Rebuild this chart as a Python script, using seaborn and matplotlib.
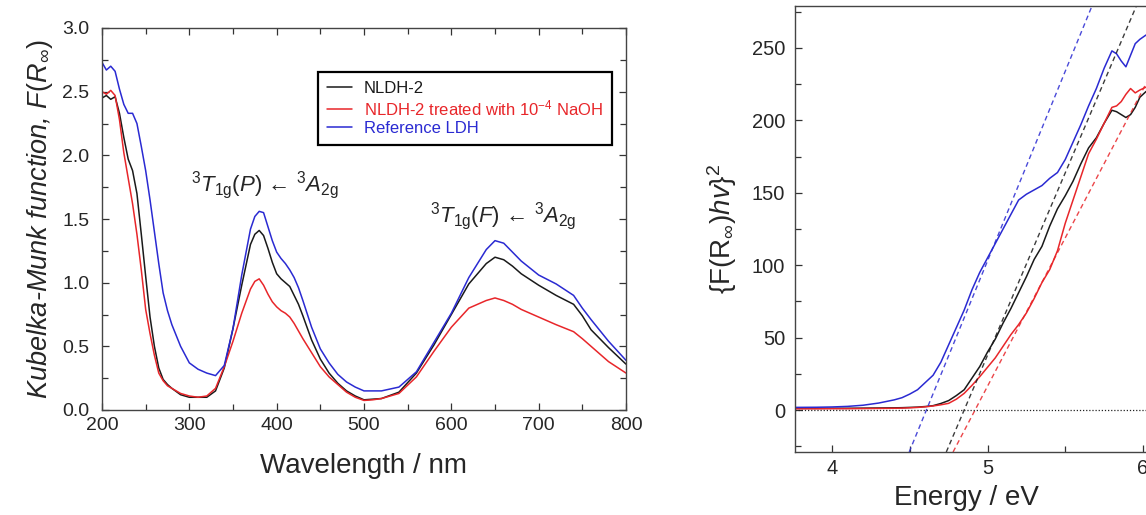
import numpy as np
import pandas as pd
import matplotlib
matplotlib.use("Agg")
import matplotlib.pyplot as plt
import seaborn as sns

# ---------------- data: left panel (Kubelka-Munk spectra) ----------------
wavelength = [200, 205, 210, 215, 220, 225, 230, 235, 240, 245, 250, 255, 260, 265,
              270, 275, 280, 290, 300, 310, 320, 330, 340, 350, 360, 370, 375, 380,
              385, 390, 395, 400, 405, 410, 415, 420, 425, 430, 440, 450, 460, 470,
              480, 490, 500, 510, 520, 540, 560, 580, 600, 620, 640, 650, 660, 670,
              680, 700, 720, 740, 750, 760, 780, 800]
km_nldh2 = [2.45, 2.47, 2.44, 2.46, 2.33, 2.14, 1.97, 1.88, 1.70, 1.38, 1.05, 0.73, 0.50, 0.33,
            0.24, 0.20, 0.17, 0.12, 0.10, 0.10, 0.10, 0.15, 0.33, 0.64, 0.98, 1.30, 1.38, 1.41,
            1.37, 1.27, 1.16, 1.07, 1.03, 1.00, 0.97, 0.90, 0.83, 0.74, 0.55, 0.40, 0.29, 0.21,
            0.15, 0.11, 0.08, 0.085, 0.09, 0.14, 0.29, 0.51, 0.75, 0.99, 1.15, 1.20, 1.18, 1.13,
            1.07, 0.98, 0.90, 0.83, 0.74, 0.63, 0.49, 0.36]
km_naoh = [2.50, 2.48, 2.51, 2.47, 2.28, 2.02, 1.82, 1.62, 1.38, 1.10, 0.79, 0.60, 0.43, 0.29,
           0.23, 0.19, 0.17, 0.13, 0.11, 0.10, 0.11, 0.17, 0.34, 0.54, 0.76, 0.95, 1.01, 1.03,
           0.98, 0.91, 0.85, 0.81, 0.78, 0.76, 0.73, 0.68, 0.62, 0.56, 0.45, 0.34, 0.26, 0.20,
           0.14, 0.10, 0.075, 0.08, 0.09, 0.13, 0.26, 0.46, 0.65, 0.80, 0.86, 0.88, 0.86, 0.83,
           0.79, 0.73, 0.67, 0.615, 0.56, 0.50, 0.38, 0.29]
km_ref = [2.73, 2.67, 2.70, 2.66, 2.52, 2.40, 2.33, 2.33, 2.25, 2.07, 1.88, 1.65, 1.40, 1.15,
          0.92, 0.78, 0.67, 0.50, 0.37, 0.32, 0.29, 0.27, 0.35, 0.64, 1.06, 1.42, 1.52, 1.56,
          1.55, 1.44, 1.33, 1.24, 1.19, 1.15, 1.10, 1.04, 0.96, 0.86, 0.65, 0.48, 0.37, 0.28,
          0.22, 0.18, 0.15, 0.15, 0.15, 0.18, 0.30, 0.53, 0.76, 1.04, 1.26, 1.33, 1.31, 1.24,
          1.17, 1.06, 0.99, 0.90, 0.80, 0.71, 0.54, 0.39]

# ---------------- data: right panel (Tauc plot) ----------------
energy = [3.76, 3.9, 4.0, 4.1, 4.2, 4.3, 4.4, 4.45, 4.5, 4.55, 4.6, 4.65, 4.7, 4.75,
          4.8, 4.85, 4.9, 4.95, 5.0, 5.05, 5.1, 5.15, 5.2, 5.25, 5.3, 5.35, 5.4, 5.45,
          5.5, 5.55, 5.6, 5.65, 5.7, 5.75, 5.8, 5.83, 5.86, 5.89, 5.92, 5.95, 5.98, 6.02]
tauc_nldh2 = [1.2, 1.2, 1.2, 1.2, 1.3, 1.4, 1.5, 1.6, 1.8, 2.0, 2.4, 3.0, 4.5, 6.5,
              10, 14, 22, 30, 40, 49, 60, 70, 81, 92, 104, 113, 127, 139,
              148, 158, 170, 181, 188, 198, 207, 206, 204, 202, 204, 209, 216, 220]
tauc_naoh = [0.8, 0.8, 0.9, 0.9, 1.0, 1.1, 1.2, 1.3, 1.5, 1.8, 2.2, 2.8, 3.6, 4.6,
             7.5, 11.5, 17, 23, 29.5, 36, 44, 52, 59, 67, 77, 88, 97, 110,
             129, 145, 161, 177, 187, 198, 209, 210, 213, 218, 222, 219, 221, 223]
tauc_ref = [1.8, 1.9, 2.1, 2.5, 3.3, 4.8, 7.0, 8.5, 11, 14, 19, 24, 33, 45,
            57, 69, 83, 95, 105, 115, 125, 135, 145, 149, 152, 155, 160, 164,
            173, 185, 197, 210, 222, 236, 248, 246, 241, 237, 245, 253, 256, 259]
# linear fits: band-gap intercept (eV) and slope
fit_gap = [4.85, 4.92, 4.607]
fit_slope = [252, 205, 262]

labels = ["NLDH-2", "NLDH-2 treated with 10$^{-4}$ NaOH", "Reference LDH"]
colors = ["#1a1a1a", "#e8262a", "#2a2ad2"]

# ---------------- style ----------------
sns.set_theme(style="ticks")
plt.rcParams["font.family"] = ["Liberation Sans", "DejaVu Sans"]
plt.rcParams["mathtext.fontset"] = "custom"
plt.rcParams["mathtext.rm"] = "Liberation Sans"
plt.rcParams["mathtext.it"] = "Liberation Sans:italic"
plt.rcParams["mathtext.bf"] = "Liberation Sans:bold"

W, H = 1146, 515
fig = plt.figure(figsize=(W / 100, H / 100), dpi=100)

def frac(l, t, r, b):
    return [l / W, 1 - b / H, (r - l) / W, (b - t) / H]

ax1 = fig.add_axes(frac(102, 28, 626, 410))
ax2_right_px = 795 + (6.45 - 3.762) * 155.5
ax2 = fig.add_axes(frac(795, 6, ax2_right_px, 452))

df1 = pd.DataFrame({"wl": wavelength * 3,
                    "km": km_nldh2 + km_naoh + km_ref,
                    "s": [labels[0]] * len(wavelength) + [labels[1]] * len(wavelength)
                         + [labels[2]] * len(wavelength)})
sns.lineplot(data=df1, x="wl", y="km", hue="s", palette=colors, hue_order=labels,
             ax=ax1, linewidth=1.1, sort=False, estimator=None)

ax1.set_xlim(200, 800)
ax1.set_ylim(0, 3.0)
ax1.set_xticks([200, 300, 400, 500, 600, 700, 800])
ax1.set_xticks(np.arange(250, 800, 100), minor=True)
ax1.set_yticks(np.arange(0, 3.01, 0.5))
ax1.set_yticks(np.arange(0.25, 3.0, 0.5), minor=True)
ax1.set_yticklabels([f"{v:.1f}" for v in np.arange(0, 3.01, 0.5)])
ax1.tick_params(which="both", direction="in", top=True, right=True, labelsize=14,
                color="#333333", width=0.9)
ax1.tick_params(axis="y", which="major", length=5, pad=9)
ax1.tick_params(axis="x", which="major", length=5, pad=5)
ax1.tick_params(which="minor", length=4)
ax1.set_xlabel("Wavelength / nm", fontsize=20, labelpad=14)
ax1.set_ylabel("Kubelka-Munk function, $F(R_\\infty)$", fontsize=19.5, style="italic", labelpad=5)
for sp in ax1.spines.values():
    sp.set_color("#444444")
    sp.set_linewidth(1.0)

leg = ax1.legend(loc="upper right", bbox_to_anchor=(0.973, 0.885), fontsize=12,
                 frameon=True, fancybox=False, framealpha=1, edgecolor="black",
                 handlelength=1.5, handletextpad=0.7, borderpad=0.55, labelspacing=0.14,
                 borderaxespad=0)
leg.get_frame().set_linewidth(1.6)
for t, c in zip(leg.get_texts(), colors):
    t.set_color(c)

ax1.text(387, 1.77, "$^3T_{1\\mathrm{g}}(P)$ \u2190 $^3A_{2\\mathrm{g}}$", fontsize=16,
         ha="center", va="center")
ax1.text(660, 1.52, "$^3T_{1\\mathrm{g}}(F)$ \u2190 $^3A_{2\\mathrm{g}}$", fontsize=16,
         ha="center", va="center")

# ---------------- right panel ----------------
df2 = pd.DataFrame({"E": energy * 3,
                    "v": tauc_nldh2 + tauc_naoh + tauc_ref,
                    "s": [labels[0]] * len(energy) + [labels[1]] * len(energy)
                         + [labels[2]] * len(energy)})
sns.lineplot(data=df2, x="E", y="v", hue="s", palette=colors, hue_order=labels,
             ax=ax2, linewidth=1.1, sort=False, estimator=None, legend=False)
for g, s, c in zip(fit_gap, fit_slope, colors):
    ax2.axline((g, 0), slope=s, color=c, lw=1.0, ls=(0, (3.5, 2.5)), alpha=0.85)
ax2.axhline(0, color="#222222", lw=0.9, ls=(0, (1, 1.5)))

ax2.set_xlim(3.762, 6.45)
ax2.set_ylim(-29, 279)
ax2.set_xticks([4, 5, 6])
ax2.set_xticks([4.5, 5.5], minor=True)
ax2.set_yticks([0, 50, 100, 150, 200, 250])
ax2.set_yticks([25, 75, 125, 175, 225, 275, -25], minor=True)
ax2.tick_params(which="both", direction="in", labelsize=14.5, color="#333333", width=0.9)
ax2.tick_params(axis="x", which="major", length=5, pad=5)
ax2.tick_params(axis="y", which="major", length=5, pad=7)
ax2.tick_params(which="minor", length=4)
ax2.set_xlabel("Energy / eV", fontsize=20)
ax2.set_ylabel("{F(R$_\\infty$)$hv$}$^2$", fontsize=20, labelpad=9)
ax2.xaxis.set_label_coords((966 - 795) / (ax2_right_px - 795), -0.075)
for sp in ax2.spines.values():
    sp.set_color("#444444")
    sp.set_linewidth(1.0)

fig.savefig("out.png", dpi=100)
